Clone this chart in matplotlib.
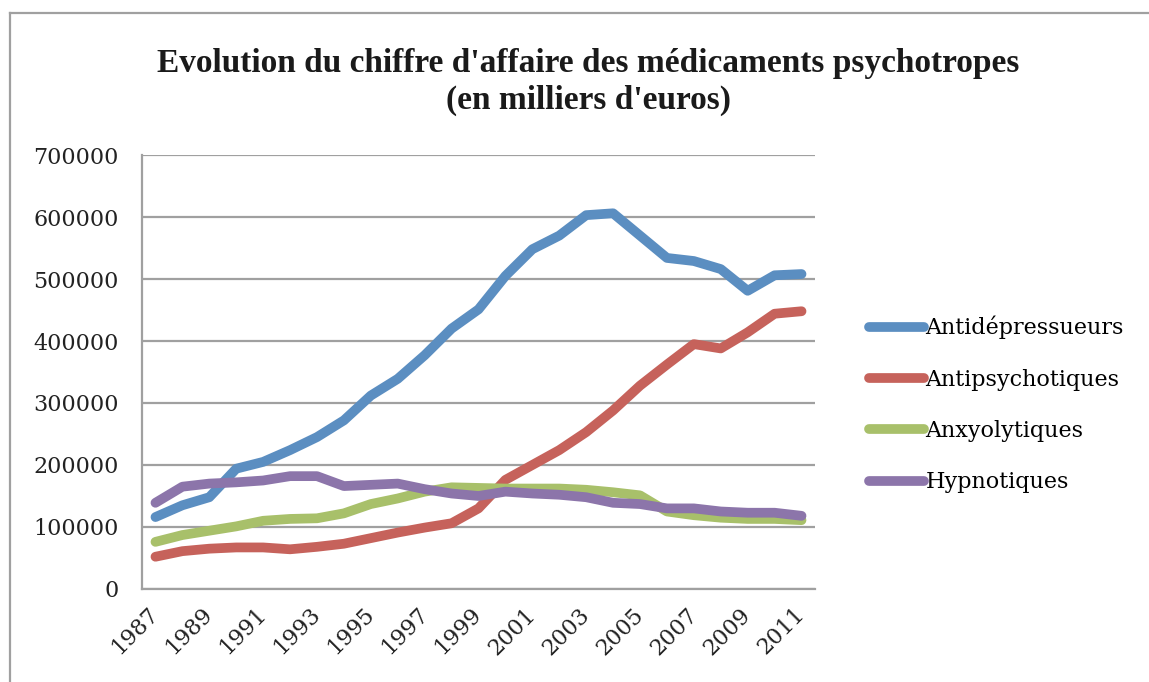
import matplotlib.pyplot as plt
from matplotlib.lines import Line2D

years = list(range(1987, 2012))
antidepresseurs = [116000, 135000, 148000, 194000, 205000, 224000, 245000, 272000, 312000, 339000,
                   377000, 420000, 451000, 505000, 548000, 570000, 603000, 606000, 570000, 534000,
                   529000, 516000, 481000, 506000, 508000]
antipsychotiques = [52000, 61000, 65000, 67000, 67000, 64000, 68000, 73000, 82000, 91000,
                    99000, 106000, 130000, 176000, 200000, 224000, 253000, 288000, 328000, 362000,
                    395000, 388000, 414000, 444000, 448000]
anxyolytiques = [76000, 87000, 94000, 101000, 110000, 113000, 114000, 122000, 137000, 146000,
                 157000, 164000, 163000, 162000, 162000, 162000, 160000, 156000, 151000, 125000,
                 119000, 115000, 113000, 113000, 111000]
hypnotiques = [139000, 165000, 170000, 172000, 175000, 182000, 182000, 166000, 168000, 170000,
               161000, 154000, 150000, 157000, 154000, 152000, 148000, 139000, 137000, 130000,
               130000, 125000, 123000, 123000, 118000]

series = [
    ("Antidépressueurs", antidepresseurs, "#5B8EC1"),
    ("Antipsychotiques", antipsychotiques, "#C6625B"),
    ("Anxyolytiques", anxyolytiques, "#A8C06A"),
    ("Hypnotiques", hypnotiques, "#8C75AA"),
]

grid_color = "#A0A0A0"

fig = plt.figure(figsize=(11.49, 6.82), dpi=100)
ax = fig.add_axes([0.1236, 0.1364, 0.5857, 0.6363])

x = list(range(len(years)))
for name, values, color in series:
    ax.plot(x, values, color=color, lw=7, solid_capstyle="round", solid_joinstyle="round", label=name)

ax.set_xlim(-0.5, len(years) - 0.5)
ax.set_ylim(0, 700000)
ax.set_yticks(range(0, 700001, 100000))
ax.set_yticklabels([str(v) for v in range(0, 700001, 100000)])
ax.set_xticks(x[::2])
ax.set_xticklabels([str(y) for y in years[::2]], rotation=45, ha="right", va="center",
                   rotation_mode="anchor")

ax.grid(axis="y", color=grid_color, lw=1.6)
ax.set_axisbelow(True)
for side in ["top", "right"]:
    ax.spines[side].set_visible(False)
for side in ["left", "bottom"]:
    ax.spines[side].set_color(grid_color)
    ax.spines[side].set_linewidth(1.6)
ax.tick_params(axis="both", length=0, labelsize=16, colors="#222222")
ax.tick_params(axis="y", pad=17)
ax.tick_params(axis="x", pad=16)
for lbl in ax.get_xticklabels() + ax.get_yticklabels():
    lbl.set_fontfamily("DejaVu Serif")

leg = ax.legend(loc="center left", bbox_to_anchor=(1.05, 0.425), frameon=False,
                prop={"family": "DejaVu Serif", "size": 16}, handlelength=2.5,
                handletextpad=0.05, labelspacing=1.32)

title_font = dict(ha="center", va="center", fontsize=24, fontweight="bold",
                  family="Liberation Serif", color="#1a1a1a")
fig.text(0.512, 0.907, "Evolution du chiffre d'affaire des médicaments psychotropes", **title_font)
fig.text(0.512, 0.853, "(en milliers d'euros)", **title_font)

# outer chart frame (left and top edges visible)
fig.add_artist(Line2D([10 / 1149, 10 / 1149], [0, 1 - 13 / 682], transform=fig.transFigure,
                      color=grid_color, lw=1.6))
fig.add_artist(Line2D([10 / 1149, 1], [1 - 13 / 682, 1 - 13 / 682], transform=fig.transFigure,
                      color=grid_color, lw=1.6))

fig.savefig("out.png", dpi=100)
